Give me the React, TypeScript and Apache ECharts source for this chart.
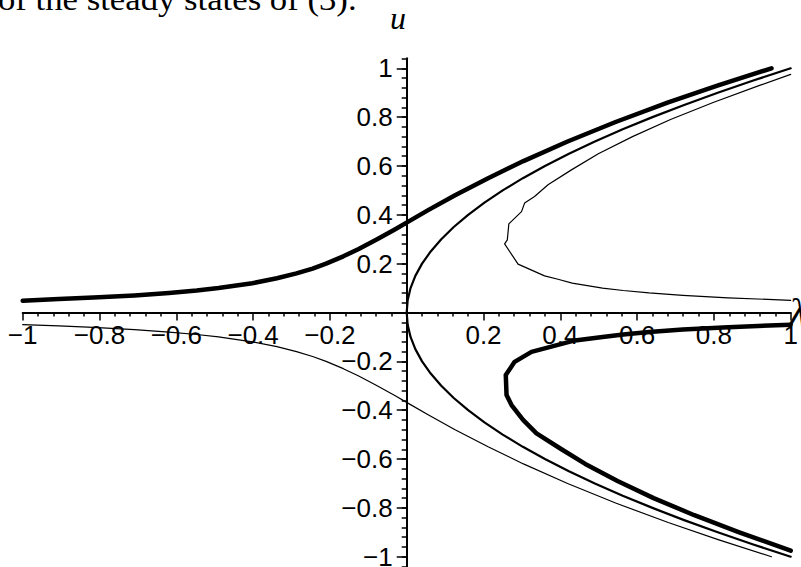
import React, { useEffect, useRef } from 'react';
import * as echarts from 'echarts';

// Steady-state branches (x = lambda, y = u)
const thickUpper: number[][] = [
  [-1.0, 0.048], [-0.906, 0.055], [-0.816, 0.061], [-0.709, 0.07], [-0.619, 0.08],
  [-0.547, 0.09], [-0.49, 0.1], [-0.402, 0.12], [-0.338, 0.14], [-0.287, 0.16],
  [-0.245, 0.18], [-0.21, 0.2], [-0.165, 0.23], [-0.125, 0.26], [-0.077, 0.3],
  [-0.031, 0.34], [0.002, 0.37], [0.057, 0.42], [0.126, 0.48], [0.212, 0.55],
  [0.304, 0.62], [0.419, 0.7], [0.544, 0.78], [0.681, 0.86], [0.811, 0.93], [0.95, 1.0],
];

const thickLower: number[][] = [
  [1.0, -0.05], [0.837, -0.06], [0.719, -0.07], [0.631, -0.08], [0.564, -0.09],
  [0.51, -0.1], [0.433, -0.116], [0.325, -0.161], [0.281, -0.202], [0.258, -0.256],
  [0.26, -0.338], [0.273, -0.379], [0.303, -0.44], [0.338, -0.495], [0.403, -0.56],
  [0.465, -0.62], [0.549, -0.69], [0.643, -0.76], [0.749, -0.83], [0.866, -0.9], [1.0, -0.975],
];

const mediumCurve: number[][] = [
  [1.0, -1.0], [0.9025, -0.95], [0.81, -0.9], [0.7225, -0.85], [0.64, -0.8], [0.5625, -0.75],
  [0.49, -0.7], [0.4225, -0.65], [0.36, -0.6], [0.3025, -0.55], [0.25, -0.5], [0.2025, -0.45],
  [0.16, -0.4], [0.1225, -0.35], [0.09, -0.3], [0.0625, -0.25], [0.04, -0.2], [0.0225, -0.15],
  [0.01, -0.1], [0.0025, -0.05], [0.0, 0.0], [0.0025, 0.05], [0.01, 0.1], [0.0225, 0.15],
  [0.04, 0.2], [0.0625, 0.25], [0.09, 0.3], [0.1225, 0.35], [0.16, 0.4], [0.2025, 0.45],
  [0.25, 0.5], [0.3025, 0.55], [0.36, 0.6], [0.4225, 0.65], [0.49, 0.7], [0.5625, 0.75],
  [0.64, 0.8], [0.7225, 0.85], [0.81, 0.9], [0.9025, 0.95], [1.0, 1.0],
];

const thinRight: number[][] = [
  [1.0, 0.05], [0.837, 0.06], [0.719, 0.07], [0.631, 0.08], [0.564, 0.09], [0.51, 0.1],
  [0.431, 0.12], [0.394, 0.136], [0.359, 0.15], [0.29, 0.198], [0.255, 0.281], [0.262, 0.297],
  [0.266, 0.363], [0.299, 0.413], [0.307, 0.448], [0.333, 0.475], [0.368, 0.523], [0.429, 0.584],
  [0.499, 0.65], [0.588, 0.72], [0.687, 0.79], [0.798, 0.86], [0.919, 0.93], [1.0, 0.975],
];

const thinLeft: number[][] = [
  [-1.0, -0.05], [-0.906, -0.055], [-0.816, -0.061], [-0.709, -0.07], [-0.619, -0.08],
  [-0.547, -0.09], [-0.49, -0.1], [-0.402, -0.12], [-0.338, -0.14], [-0.287, -0.16],
  [-0.245, -0.18], [-0.21, -0.2], [-0.165, -0.23], [-0.125, -0.26], [-0.077, -0.3],
  [-0.031, -0.34], [0.002, -0.37], [0.057, -0.42], [0.126, -0.48], [0.212, -0.55],
  [0.304, -0.62], [0.419, -0.7], [0.544, -0.78], [0.681, -0.86], [0.811, -0.93], [0.95, -1.0],
];

const yMajorTicks: number[] = [-1, -0.8, -0.6, -0.4, -0.2, 0.2, 0.4, 0.6, 0.8, 1];
const headerText = 'of the steady states of (3).';
const yAxisName = 'u';
const xAxisName = 'λ';

const black = '#000';
const sans = 'Liberation Sans, Arial, sans-serif';
const serif = 'Liberation Serif, Times New Roman, serif';

// layout of the plotting box (pixels)
const W = 801;
const H = 567;
const GRID_LEFT = 22.7;
const GRID_RIGHT = 10.3;
const GRID_TOP = 58.5;
const GRID_BOTTOM = 0.5;
const gridW = W - GRID_LEFT - GRID_RIGHT;
const gridH = H - GRID_TOP - GRID_BOTTOM;
// axes cross at the origin, which sits in the middle of both ranges
const xAxisOffset = -gridH / 2;
const yAxisOffset = -gridW / 2;

const fmt = (v: number): string => {
  if (Math.abs(v) < 1e-9) return '';
  const r = Math.round(v * 10) / 10;
  return String(r).replace('-', '\u2212');
};

const curve = (data: number[][], width: number) => ({
  type: 'line',
  data,
  showSymbol: false,
  symbol: 'none',
  smooth: false,
  silent: true,
  clip: false,
  lineStyle: { color: black, width, cap: 'round', join: 'round' },
  xAxisIndex: 0,
  yAxisIndex: 0,
  z: 5,
});

export default function App() {
  const ref = useRef<HTMLDivElement>(null);
  useEffect(() => {
    if (!ref.current) return;
    const chart = echarts.init(ref.current, null, { renderer: 'svg' });
    const labelStyle = { fontFamily: sans, fontSize: 26, color: black };
    const axisLineStyle = { color: black, width: 2 };
    const tickStyle = { color: black, width: 1.5 };
    chart.setOption({
      animation: false,
      backgroundColor: '#fff',
      grid: {
        left: GRID_LEFT,
        right: GRID_RIGHT,
        top: GRID_TOP,
        bottom: GRID_BOTTOM,
        containLabel: false,
        outerBoundsMode: 'none',
      },
      xAxis: [
        {
          type: 'value',
          min: -1,
          max: 1,
          interval: 0.2,
          position: 'bottom',
          offset: xAxisOffset,
          axisLine: { show: true, onZero: false, lineStyle: axisLineStyle },
          axisTick: { show: true, length: 8, lineStyle: tickStyle },
          minorTick: { show: true, splitNumber: 5, length: 4, lineStyle: tickStyle },
          axisLabel: { ...labelStyle, formatter: fmt, margin: 9, showMinLabel: true, showMaxLabel: true, hideOverlap: false },
          splitLine: { show: false },
          minorSplitLine: { show: false },
        },
      ],
      yAxis: [
        {
          type: 'value',
          min: -1.04,
          max: 1.04,
          interval: 0.04,
          position: 'left',
          offset: yAxisOffset,
          axisLine: { show: true, onZero: false, lineStyle: axisLineStyle },
          axisTick: { show: true, length: 5, lineStyle: tickStyle },
          axisLabel: { show: false },
          splitLine: { show: false },
        },
        {
          type: 'value',
          min: -1.04,
          max: 1.04,
          position: 'left',
          offset: yAxisOffset,
          axisLine: { show: true, onZero: false, lineStyle: axisLineStyle },
          axisTick: { show: true, length: 10, customValues: yMajorTicks, lineStyle: tickStyle },
          axisLabel: { ...labelStyle, customValues: yMajorTicks, formatter: fmt, margin: 14, hideOverlap: false },
          splitLine: { show: false },
        },
      ],
      series: [
        curve(thickUpper, 4.5),
        curve(thickLower, 4.5),
        curve(mediumCurve, 2.2),
        curve(thinRight, 1.2),
        curve(thinLeft, 1.2),
      ],
      graphic: [
        {
          type: 'text',
          x: -2,
          y: 0,
          scaleX: 1.12,
          silent: true,
          style: { text: headerText, font: `31px ${serif}`, fill: black, verticalAlign: 'middle', align: 'left' },
        },
        {
          type: 'text',
          x: 398,
          y: 18,
          silent: true,
          style: { text: yAxisName, font: `italic 32px ${serif}`, fill: black, verticalAlign: 'middle', align: 'center' },
        },
        {
          type: 'text',
          x: 789,
          y: 312,
          silent: true,
          style: { text: xAxisName, font: `italic 40px ${serif}`, fill: black, verticalAlign: 'middle', align: 'left' },
        },
      ],
    });
    return () => chart.dispose();
  }, []);
  return (
    <div
      ref={ref}
      style={{ position: 'fixed', left: 0, top: 0, width: W, height: H, background: '#fff' }}
    />
  );
}
